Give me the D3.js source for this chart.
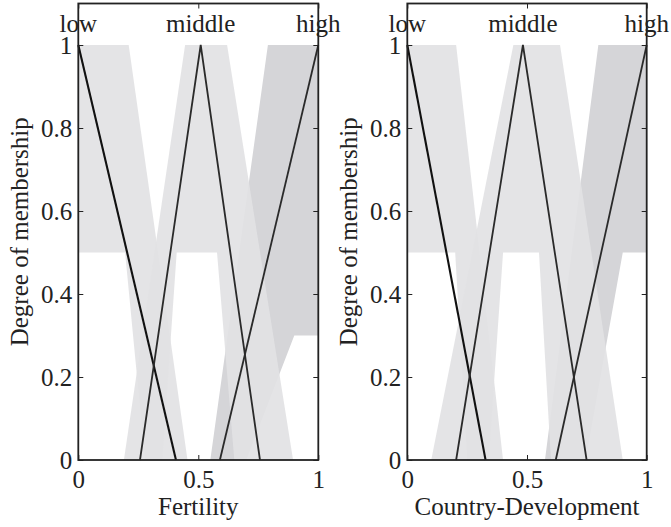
<!DOCTYPE html>
<html>
<head>
<meta charset="utf-8">
<script src="https://cdn.jsdelivr.net/npm/d3@7"></script>
<style>
    body { margin: 0; background: #fff; }
    svg { display: block; }
    text { font-family: "Liberation Serif", "Times New Roman", serif; fill: #222; }
    .axis path, .axis line { stroke: #222; }
    .axis text { font-size: 25px; }
</style>
</head>
<body>
<svg width="671" height="527"></svg>
<script>
// подписи множеств и оси
const setNames = ['low', 'middle', 'high'];
const yTicks = [0, 0.2, 0.4, 0.6, 0.8, 1];
const xTicks = [0, 0.5, 1];
const yTitle = 'Degree of membership';

// Fertility: верхняя (UMF) и нижняя (LMF) функции принадлежности
const fertLowUMF = [[0, 1], [0.21, 1], [0.455, 0]];
const fertLowLMF = [[0, 0.5], [0.195, 0.5], [0.278, 0]];
const fertMidUMF = [[0.19, 0], [0.445, 1], [0.62, 1], [0.895, 0]];
const fertMidLMF = [[0.35, 0], [0.41, 0.5], [0.578, 0.5], [0.65, 0]];
const fertHighUMF = [[0.55, 0], [0.79, 1], [1, 1]];
const fertHighLMF = [[0.70, 0], [0.90, 0.3], [1, 0.3]];
// Fertility: основные (чёрные) функции
const fertLowMF = [[0, 1], [0.407, 0]];
const fertMidMF = [[0.257, 0], [0.51, 1], [0.757, 0]];
const fertHighMF = [[0.59, 0], [1, 1]];
const fertLabelX = [0, 0.51, 1];

// Country-Development
const devLowUMF = [[0, 1], [0.204, 1], [0.40, 0]];
const devLowLMF = [[0, 0.5], [0.2, 0.5], [0.25, 0]];
const devMidUMF = [[0.10, 0], [0.443, 1], [0.638, 1], [0.90, 0]];
const devMidLMF = [[0.34, 0], [0.40, 0.5], [0.55, 0.5], [0.60, 0]];
const devHighUMF = [[0.575, 0], [0.798, 1], [1, 1]];
const devHighLMF = [[0.745, 0], [0.90, 0.5], [1, 0.5]];
const devLowMF = [[0, 1], [0.327, 0]];
const devMidMF = [[0.204, 0], [0.483, 1], [0.749, 0]];
const devHighMF = [[0.62, 0], [1, 1]];
const devLabelX = [0, 0.483, 1];

const svg = d3.select('svg');

function drawPanel(opt) {
    const scaleX = d3.scaleLinear().domain([0, 1]).range([opt.left, opt.right]);
    const scaleY = d3.scaleLinear().domain([0, 1]).range([460, 45]);
    const top = scaleY(1.1);

    const line = d3.line().x(d => scaleX(d[0])).y(d => scaleY(d[1]));

    // области неопределённости (FOU): UMF + LMF в обратном порядке
    // сначала high (темнее), потом low и middle поверх
    const fous = [
        { umf: opt.high[0], lmf: opt.high[1], fill: '#d5d5d8', op: 1 },
        { umf: opt.low[0], lmf: opt.low[1], fill: '#e2e2e4', op: 0.92 },
        { umf: opt.mid[0], lmf: opt.mid[1], fill: '#e2e2e4', op: 0.92 }
    ];
    svg.append('g')
        .selectAll('path')
        .data(fous)
        .enter()
        .append('path')
        .attr('d', d => line(d.umf.concat(d.lmf.slice().reverse())) + 'Z')
        .style('fill', d => d.fill)
        .style('fill-opacity', d => d.op)
        .style('stroke', 'none');

    // основные функции принадлежности
    svg.append('g')
        .selectAll('path')
        .data(opt.lines)
        .enter()
        .append('path')
        .attr('d', d => line(d))
        .style('fill', 'none')
        .style('stroke', (d, i) => i === 0 ? '#111' : '#2a2a2a')
        .style('stroke-width', (d, i) => i === 0 ? 2.1 : 1.8);

    // рамка и оси (засечки внутрь, как в matlab)
    svg.append('rect')
        .attr('x', opt.left)
        .attr('y', top)
        .attr('width', opt.right - opt.left)
        .attr('height', 460 - top)
        .style('fill', 'none')
        .style('stroke', '#222')
        .style('stroke-width', 1.8);

    svg.append('g')
        .attr('class', 'axis')
        .attr('transform', `translate(${opt.left}, 0)`)
        .call(d3.axisLeft(scaleY).tickValues(yTicks).tickFormat(d3.format('')).tickSize(-5).tickPadding(6))
        .call(g => g.select('.domain').remove());

    svg.append('g')
        .attr('class', 'axis')
        .attr('transform', `translate(${opt.right}, 0)`)
        .call(d3.axisRight(scaleY).tickValues(yTicks).tickFormat('').tickSize(-5))
        .call(g => g.select('.domain').remove());

    svg.append('g')
        .attr('class', 'axis')
        .attr('transform', 'translate(0, 460)')
        .call(d3.axisBottom(scaleX).tickValues(xTicks).tickFormat(d3.format('')).tickSize(-5).tickPadding(10))
        .call(g => g.select('.domain').remove());

    svg.append('g')
        .attr('class', 'axis')
        .attr('transform', `translate(0, ${top})`)
        .call(d3.axisTop(scaleX).tickValues(xTicks).tickFormat('').tickSize(-5))
        .call(g => g.select('.domain').remove());

    // подписи множеств над графиком
    svg.append('g')
        .selectAll('text')
        .data(setNames)
        .enter()
        .append('text')
        .attr('x', (d, i) => scaleX(opt.labelX[i]))
        .attr('y', 32)
        .attr('text-anchor', 'middle')
        .style('font-size', '25px')
        .text(d => d);

    // подписи осей
    svg.append('text')
        .attr('x', (opt.left + opt.right) / 2)
        .attr('y', 515)
        .attr('text-anchor', 'middle')
        .style('font-size', '25px')
        .text(opt.xTitle);

    svg.append('text')
        .attr('transform', `translate(${opt.yTitleX}, ${(top + 460) / 2}) rotate(-90)`)
        .attr('text-anchor', 'middle')
        .style('font-size', '25px')
        .text(yTitle);
}

drawPanel({
    left: 78.3, right: 318.3, yTitleX: 28, xTitle: 'Fertility',
    low: [fertLowUMF, fertLowLMF], mid: [fertMidUMF, fertMidLMF], high: [fertHighUMF, fertHighLMF],
    lines: [fertLowMF, fertMidMF, fertHighMF], labelX: fertLabelX
});

drawPanel({
    left: 407.3, right: 646.7, yTitleX: 357, xTitle: 'Country-Development',
    low: [devLowUMF, devLowLMF], mid: [devMidUMF, devMidLMF], high: [devHighUMF, devHighLMF],
    lines: [devLowMF, devMidMF, devHighMF], labelX: devLabelX
});
</script>
</body>
</html>
